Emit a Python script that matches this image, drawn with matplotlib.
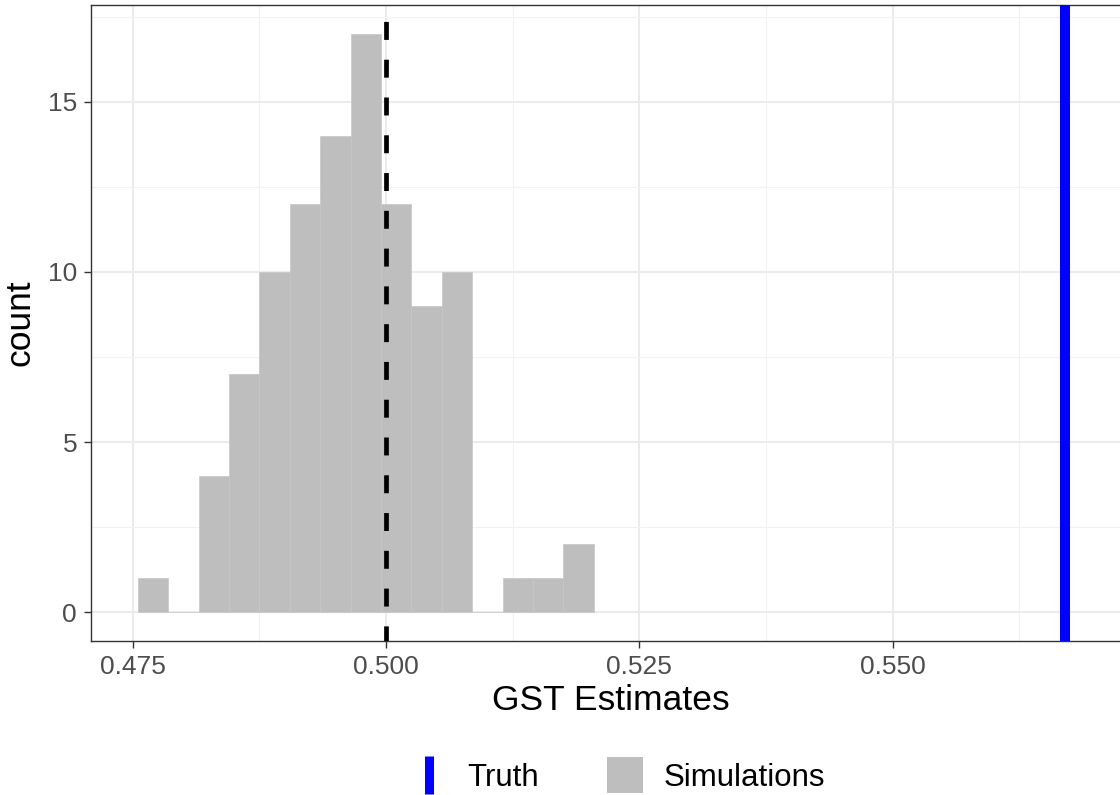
import matplotlib
matplotlib.use("Agg")
import matplotlib.pyplot as plt
from matplotlib.lines import Line2D
import numpy as np

plt.rcParams['font.family'] = ['Liberation Sans', 'DejaVu Sans']

# Histogram data (bin edges, counts)
bin_start = 0.4755
bin_width = 0.003
counts = [1, 0, 4, 7, 10, 12, 14, 17, 12, 9, 10, 0, 1, 1, 2]
sim_mean = 0.500
truth = 0.567
x_ticks = [0.475, 0.500, 0.525, 0.550]
x_tick_labels = ["0.475", "0.500", "0.525", "0.550"]
y_ticks = [0, 5, 10, 15]

W, H = 1120, 795
fig = plt.figure(figsize=(W / 100, H / 100), dpi=100)
left_px, right_px, top_px, bottom_px = 91, 1130, 5, 641
ax = fig.add_axes([left_px / W, 1 - bottom_px / H, (right_px - left_px) / W, (bottom_px - top_px) / H])

bar_color = '#BEBEBE'
lefts = [bin_start + i * bin_width for i in range(len(counts))]
ax.bar(lefts, counts, width=bin_width, align='edge', color=bar_color,
       edgecolor='#c6c6c6', linewidth=0.5, zorder=2)

ax.axvline(sim_mean, color='black', linewidth=3.4, linestyle=(0.6, (3.8, 4.2)),
           dash_capstyle='butt', zorder=3)
ax.axvline(truth, color='#0000FF', linewidth=7.2, zorder=3)

ax.set_xlim(0.470885, 0.57342)
ax.set_ylim(-0.85, 17.85)
ax.set_xticks(x_ticks)
ax.set_xticklabels(x_tick_labels)
ax.set_yticks(y_ticks)
ax.set_xticks([0.4875, 0.5125, 0.5375, 0.5625], minor=True)
ax.set_yticks([2.5, 7.5, 12.5, 17.5], minor=True)

ax.grid(True, which='major', color='#EBEBEB', linewidth=1.5, zorder=0)
ax.grid(True, which='minor', color='#F2F2F2', linewidth=0.8, zorder=0)
ax.set_axisbelow(True)

for s in ax.spines.values():
    s.set_color('#333333')
    s.set_linewidth(1.0)

ax.tick_params(axis='both', which='major', length=5, width=1.0, color='#333333',
               labelsize=19, labelcolor='#4D4D4D', pad=5)
ax.tick_params(axis='both', which='minor', length=0)

ax.set_xlabel("GST Estimates", fontsize=25.5, color='black', labelpad=4)
ax.set_ylabel("count", fontsize=25.5, color='black', labelpad=8)

handles = [
    Line2D([], [], color='#0000FF', marker='|', markersize=28, markeredgewidth=6.5, linestyle='None'),
    Line2D([], [], color=bar_color, marker='s', markersize=26, markeredgewidth=0, linestyle='None'),
]
fig.legend(handles, ["Truth", "Simulations"], loc='center', bbox_to_anchor=(617 / W, 1 - 778 / H),
           ncol=2, frameon=False, fontsize=22.5, handlelength=1.25, handletextpad=0.6,
           columnspacing=2.15, numpoints=1)

fig.savefig("out.png", dpi=100)
